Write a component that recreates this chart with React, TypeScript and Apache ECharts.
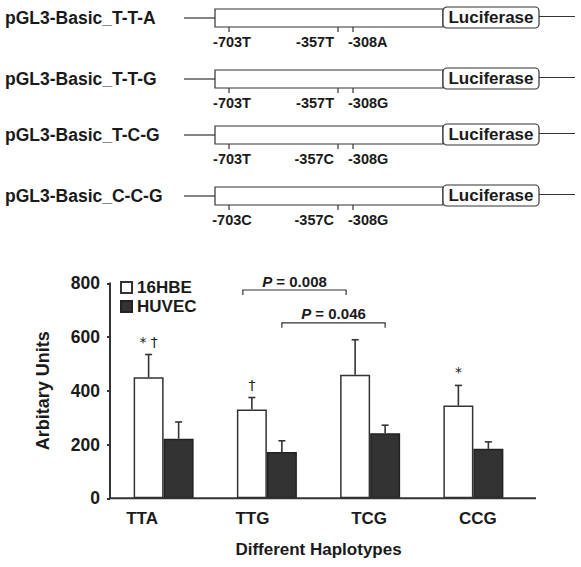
import React, { useEffect, useRef } from 'react';
import * as echarts from 'echarts';

// ---- data ----
const haplotypes = ['TTA', 'TTG', 'TCG', 'CCG'];
const seriesNames = ['16HBE', 'HUVEC'];
const hbeMean = [450, 330, 460, 345];
const hbeSD = [85, 45, 130, 75];
const huvecMean = [222, 172, 242, 184];
const huvecSD = [62, 42, 30, 26];
const hbeMarks = ['* †', '†', '', '*'];
const yMin = 0;
const yMax = 800;
const yStep = 200;
const bracketFrom = [1, 1];
const bracketTo = [2, 2];
const bracketSeries = [0, 1];
const bracketY = [775, 653];
const bracketP = ['0.008', '0.046'];

const constructNames = ['pGL3-Basic_T-T-A', 'pGL3-Basic_T-T-G', 'pGL3-Basic_T-C-G', 'pGL3-Basic_C-C-G'];
const snp703 = ['-703T', '-703T', '-703T', '-703C'];
const snp357 = ['-357T', '-357T', '-357C', '-357C'];
const snp308 = ['-308A', '-308G', '-308G', '-308G'];
const reporter = 'Luciferase';

// ---- style ----
const FONT = '"Liberation Sans", Arial, sans-serif';
const MARK_FONT = '"DejaVu Sans", "Liberation Sans", sans-serif';
const INK = '#1a1a1a';
const LINE = '#333333';
const DARK = '#333333';
const BAR_W = 30;
const rowY = [18, 79, 135, 196];
const labelShift = [
  [0, 43, 0, 0],
  [0, 29, 0, 0],
  [0, 2, 0, 0],
  [0, 0, 0, 9],
];

function constructGraphics() {
  const els: any[] = [];
  constructNames.forEach((name, r) => {
    const y = rowY[r];
    els.push({ type: 'text', x: 5, y, style: { text: name, fill: INK, fontFamily: FONT, fontWeight: 'bold', fontSize: 17.5, verticalAlign: 'middle', align: 'left' } });
    els.push({ type: 'line', shape: { x1: 184, y1: y, x2: 215, y2: y }, style: { stroke: LINE, lineWidth: 1.2 } });
    els.push({ type: 'rect', shape: { x: 215, y: y - 9, width: 228, height: 18 }, style: { fill: '#fff', stroke: LINE, lineWidth: 1.2 } });
    els.push({ type: 'rect', shape: { x: 443, y: y - 11, width: 96, height: 21, r: 4 }, style: { fill: '#fff', stroke: LINE, lineWidth: 1.2 } });
    els.push({ type: 'text', x: 491, y: y - 0.5, style: { text: reporter, fill: INK, fontFamily: FONT, fontWeight: 'bold', fontSize: 17, align: 'center', verticalAlign: 'middle' } });
    els.push({ type: 'line', shape: { x1: 539, y1: y - 1.5, x2: 575, y2: y - 1.5 }, style: { stroke: LINE, lineWidth: 1.2 } });
    [229, 338, 353].forEach((tx) => {
      els.push({ type: 'line', shape: { x1: tx, y1: y + 9, x2: tx, y2: y + 14 }, style: { stroke: LINE, lineWidth: 1.2 } });
    });
    const ly = y + 24;
    els.push({ type: 'text', x: 232, y: ly, style: { text: snp703[r], fill: INK, fontFamily: FONT, fontWeight: 'bold', fontSize: 14.5, align: 'center', verticalAlign: 'middle' } });
    els.push({ type: 'text', x: 334, y: ly, style: { text: snp357[r], fill: INK, fontFamily: FONT, fontWeight: 'bold', fontSize: 14.5, align: 'right', verticalAlign: 'middle' } });
    els.push({ type: 'text', x: 348, y: ly, style: { text: snp308[r], fill: INK, fontFamily: FONT, fontWeight: 'bold', fontSize: 14.5, align: 'left', verticalAlign: 'middle' } });
  });
  // x axis line (extends slightly beyond the category bands)
  els.push({ type: 'line', shape: { x1: 110, y1: 498.3, x2: 536, y2: 498.3 }, style: { stroke: LINE, lineWidth: 2 }, z: 10 });
  return els;
}

function errorSeries(mean: number[], sd: number[], sign: number, marks: string[] | null) {
  return {
    type: 'custom',
    z: 5,
    data: haplotypes.map((_, i) => [i, mean[i], mean[i] + sd[i]]),
    encode: { x: 0, y: [1, 2] },
    renderItem: (params: any, api: any) => {
      const i = api.value(0);
      const top = api.coord([i, api.value(1)]);
      const hi = api.coord([i, api.value(2)]);
      const x = top[0] + sign * (BAR_W / 2);
      const children: any[] = [
        { type: 'line', shape: { x1: x, y1: top[1], x2: x, y2: hi[1] }, style: { stroke: LINE, lineWidth: 1.6 } },
        { type: 'line', shape: { x1: x - 3.5, y1: hi[1], x2: x + 3.5, y2: hi[1] }, style: { stroke: LINE, lineWidth: 1.6 } },
      ];
      if (marks && marks[i]) {
        children.push({ type: 'text', x, y: hi[1] - 13, style: { text: marks[i], fill: '#222222', fontFamily: MARK_FONT, fontSize: 14, align: 'center', verticalAlign: 'middle' } });
      }
      return { type: 'group', children };
    },
  };
}

const bracketSeriesDef = {
  type: 'custom',
  z: 6,
  data: bracketFrom.map((f, k) => [f, bracketTo[k], bracketY[k], k]),
  encode: { x: [0, 1], y: 2 },
  renderItem: (params: any, api: any) => {
    const k = api.value(3);
    const off = bracketSeries[k] === 0 ? -24 : 15;
    const p1 = api.coord([api.value(0), api.value(2)]);
    const p2 = api.coord([api.value(1), api.value(2)]);
    const x1 = p1[0] + off;
    const x2 = p2[0] + off;
    const y = p1[1];
    return {
      type: 'group',
      children: [
        { type: 'polyline', shape: { points: [[x1, y + 5], [x1, y], [x2, y], [x2, y + 5]] }, style: { stroke: LINE, lineWidth: 1.2, fill: 'none' } },
        {
          type: 'text', x: (x1 + x2) / 2, y: y - 9,
          style: {
            text: '{i|P}{n| = ' + bracketP[k] + '}', align: 'center', verticalAlign: 'middle',
            rich: {
              i: { fontStyle: 'italic', fontWeight: 'bold', fontSize: 15, fontFamily: FONT, fill: INK },
              n: { fontWeight: 'bold', fontSize: 15, fontFamily: FONT, fill: INK },
            },
          },
        },
      ],
    };
  },
};

export default function App() {
  const ref = useRef<HTMLDivElement>(null);
  useEffect(() => {
    if (!ref.current) return;
    const chart = echarts.init(ref.current, null, { renderer: 'svg' });
    const rich: any = {};
    haplotypes.forEach((h, i) => {
      rich['l' + i] = { fontFamily: FONT, fontWeight: 'bold', fontSize: 17, color: INK, padding: labelShift[i] };
    });
    chart.setOption({
      animation: false,
      backgroundColor: '#fff',
      textStyle: { fontFamily: FONT },
      grid: { left: 112, right: 56, top: 283.3, bottom: 68.7, containLabel: false },
      legend: {
        data: seriesNames,
        orient: 'vertical',
        left: 120,
        top: 279,
        padding: 0,
        itemGap: 2,
        itemWidth: 11,
        itemHeight: 11,
        icon: 'rect',
        textStyle: { fontFamily: FONT, fontWeight: 'bold', fontSize: 17, color: INK },
        selectedMode: false,
      },
      xAxis: {
        type: 'category',
        data: haplotypes,
        axisLine: { show: false },
        axisTick: { show: false },
        axisLabel: {
          margin: 12,
          formatter: (v: string) => '{l' + haplotypes.indexOf(v) + '|' + v + '}',
          rich,
        },
        name: 'Different Haplotypes',
        nameLocation: 'middle',
        nameGap: 43,
        nameTextStyle: { fontFamily: FONT, fontWeight: 'bold', fontSize: 17, color: INK },
      },
      yAxis: {
        type: 'value',
        min: yMin,
        max: yMax,
        interval: yStep,
        offset: 2,
        axisLine: { show: true, lineStyle: { color: LINE, width: 2 } },
        axisTick: { show: true, length: 3, lineStyle: { color: LINE, width: 2 } },
        splitLine: { show: false },
        axisLabel: { margin: 10, fontFamily: FONT, fontWeight: 'bold', fontSize: 17.5, color: INK },
        name: 'Arbitary Units',
        nameLocation: 'middle',
        nameGap: 58,
        nameTextStyle: { fontFamily: FONT, fontWeight: 'bold', fontSize: 18, color: INK },
      },
      series: [
        {
          name: seriesNames[0], type: 'bar', data: hbeMean, barWidth: BAR_W, barGap: '0%',
          itemStyle: { color: '#ffffff', borderColor: LINE, borderWidth: 1.5 },
        },
        {
          name: seriesNames[1], type: 'bar', data: huvecMean, barWidth: BAR_W, barGap: '0%',
          itemStyle: { color: DARK, borderColor: '#222', borderWidth: 1.5 },
        },
        errorSeries(hbeMean, hbeSD, -1, hbeMarks),
        errorSeries(huvecMean, huvecSD, 1, null),
        bracketSeriesDef,
      ],
      graphic: constructGraphics(),
    });
    return () => chart.dispose();
  }, []);
  return <div ref={ref} style={{ position: 'fixed', left: 0, top: 0, width: 581, height: 567 }} />;
}
